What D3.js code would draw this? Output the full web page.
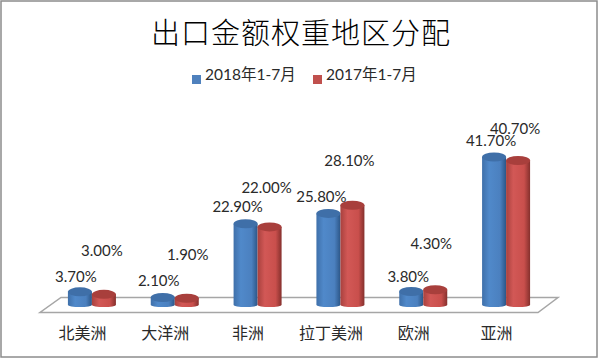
<!DOCTYPE html>
<html>
<head>
<meta charset="utf-8">
<script src="https://cdn.jsdelivr.net/npm/d3@7"></script>
<style>
  html, body { margin: 0; padding: 0; background: #fff; }
  text { font-family: Lato, "Noto Sans CJK SC", sans-serif; fill: #2a2a2a; }
</style>
</head>
<body>
<div id="chart"></div>
<script>
const categories = ["北美洲", "大洋洲", "非洲", "拉丁美洲", "欧洲", "亚洲"];
const seriesNames = ["2018年1-7月", "2017年1-7月"];
const values2018 = [3.7, 2.1, 22.9, 25.8, 3.8, 41.7];
const values2017 = [3.0, 1.9, 22.0, 28.1, 4.3, 40.7];
const title = "出口金额权重地区分配";

const width = 600;
const height = 359;

// hand placed labels in the original, offset from the top of each cylinder
const labelNudge2018 = [[-4, -14], [-4, -15], [-8, -16], [-7, -15], [-3, -13], [-3, -15]];
const labelNudge2017 = [[-2, -42], [1, -42], [-3, -38], [-3, -43], [-4, -45], [-3, -30]];

const colors = [
    { side: "#3f70aa", mid: "#5089ca", low: "#4b80bf", dark: "#2c5687", top: "#3f6fa8" },
    { side: "#a8413e", mid: "#d25856", low: "#c94f4c", dark: "#85302d", top: "#a83f3c" }
];

const svg = d3.select("#chart")
    .append("svg")
    .attr("width", width)
    .attr("height", height)
    .style("display", "block");

const defs = svg.append("defs");
colors.forEach((c, i) => {
    const grad = defs.append("linearGradient").attr("id", "cyl" + i);
    grad.append("stop").attr("offset", "0%").attr("stop-color", c.side);
    grad.append("stop").attr("offset", "30%").attr("stop-color", c.mid);
    grad.append("stop").attr("offset", "75%").attr("stop-color", c.low);
    grad.append("stop").attr("offset", "100%").attr("stop-color", c.dark);
});

// Outer frame
svg.append("rect")
    .attr("x", 1)
    .attr("y", 1)
    .attr("width", 596)
    .attr("height", 356)
    .attr("fill", "#fff")
    .attr("stroke", "#8c8c8c")
    .attr("stroke-width", 1.5);

svg.append("text")
    .attr("x", 301)
    .attr("y", 44)
    .attr("text-anchor", "middle")
    .attr("font-size", 29)
    .attr("font-weight", 300)
    .attr("letter-spacing", 1)
    .style("fill", "#000")
    .text(title);

// Legend
const legendX = [192, 313];
const legend = svg.selectAll(".legend")
    .data(seriesNames)
    .enter()
    .append("g")
    .attr("class", "legend")
    .attr("transform", (d, i) => `translate(${legendX[i]},75)`);

legend.append("rect")
    .attr("width", 9)
    .attr("height", 9)
    .attr("fill", (d, i) => i === 0 ? "#4f81bd" : "#c0504d");

legend.append("text")
    .attr("x", 13)
    .attr("y", 1)
    .attr("dominant-baseline", "middle")
    .attr("font-size", 15.5)
    .text(d => d);

// Scales
const x = d3.scaleBand()
    .domain(categories)
    .range([51, 548]);

const inner = d3.scaleBand()
    .domain([0, 1])
    .range([0, 48])
    .padding(0);

const y = d3.scaleLinear()
    .domain([0, 41.7])
    .range([305, 157]);

const rx = inner.bandwidth() / 2;
const ry = 4.5;

// Floor
svg.append("polygon")
    .attr("points", [[61, 297.5], [558, 297.5], [538, 312.5], [40, 312.5]].join(" "))
    .attr("fill", "#fff")
    .attr("stroke", "#a6a6a6")
    .attr("stroke-width", 1.5);

const groupX = d => x(d) + (x.bandwidth() - 48) / 2 - 0.5;

const drawn = [values2018, values2017];
drawn.forEach((vals, s) => {
    const cyl = svg.selectAll(".cyl" + s)
        .data(categories)
        .enter()
        .append("g")
        .attr("class", "cyl" + s);

    const cx = d => groupX(d) + inner(s) + rx;

    cyl.append("path")
        .attr("d", (d, i) => {
            const left = cx(d) - rx;
            const right = cx(d) + rx;
            const top = y(vals[i]);
            return `M${left},${top} L${left},${y(0)} A${rx},2 0 0 0 ${right},${y(0)} L${right},${top} Z`;
        })
        .attr("fill", `url(#cyl${s})`);

    cyl.append("ellipse")
        .attr("cx", cx)
        .attr("cy", (d, i) => y(vals[i]))
        .attr("rx", rx)
        .attr("ry", ry)
        .attr("fill", colors[s].top);
});

// Value labels
const nudges = [labelNudge2018, labelNudge2017];
drawn.forEach((vals, s) => {
    svg.selectAll(".val" + s)
        .data(vals)
        .enter()
        .append("text")
        .attr("class", "val" + s)
        .attr("x", (d, i) => groupX(categories[i]) + inner(s) + rx + nudges[s][i][0])
        .attr("y", (d, i) => y(d) + nudges[s][i][1])
        .attr("text-anchor", "middle")
        .attr("dominant-baseline", "middle")
        .attr("font-size", 15)
        .text(d => d.toFixed(2) + "%");
});

// Category labels
svg.selectAll(".cat")
    .data(categories)
    .enter()
    .append("text")
    .attr("class", "cat")
    .attr("x", d => x(d) + x.bandwidth() / 2 - 10)
    .attr("y", 335)
    .attr("text-anchor", "middle")
    .attr("dominant-baseline", "middle")
    .attr("font-size", 16)
    .text(d => d);
</script>
</body>
</html>
